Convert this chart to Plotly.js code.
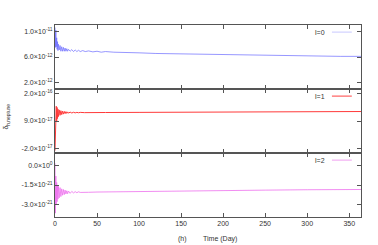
<!DOCTYPE html>
<html><head><meta charset="utf-8">
<script src="https://cdn.plot.ly/plotly-3.0.1.min.js"></script>
<style>html,body{margin:0;padding:0;background:#fff}#c{width:378px;height:245px}</style>
</head><body><div id="c"></div>
<script>
// l=0 series (units 1e-12)
const t0 = [0,0.5,1,1.5,2,2.5,3,3.5,4,5,6,7,8,9,10,11,12,13,14,15,16,18,20,22,24,26,28,30,33,36,40,45,50,55,60,70,80,90,100,120,140,160,180,200,220,240,260,280,300,320,340,364];
const v0 = [10.6,7.5,10.2,7.6,9.0,7.2,8.4,7.0,8.0,7.1,7.8,6.9,7.6,6.9,7.5,6.9,7.4,6.9,7.3,6.9,7.2,6.9,7.15,6.85,7.1,6.85,7.05,6.85,7.0,6.85,6.95,6.8,6.9,6.75,6.85,6.75,6.75,6.7,6.65,6.55,6.5,6.45,6.4,6.35,6.3,6.25,6.2,6.2,6.15,6.1,6.1,6.1];
// l=1 series (units 1e-17)
const t1 = [0,0.5,1,1.5,2,2.5,3,3.5,4,5,6,7,8,9,10,11,12,13,14,15,16,18,20,22,24,26,28,30,35,40,60,100,150,200,250,300,364];
const v1 = [-3,3,10,15,9,14.5,10,13.8,10.8,13.5,11.3,13.2,11.6,13.0,11.8,12.9,12.0,12.8,12.1,12.7,12.2,12.6,12.25,12.55,12.3,12.5,12.35,12.5,12.4,12.45,12.45,12.5,12.6,12.7,12.75,12.8,12.85];
// l=2 series (units 1e-21)
const t2 = [0,0.3,1,1.5,2,2.5,3,3.5,4,5,6,7,8,9,10,11,12,13,14,15,16,18,20,22,24,26,28,30,35,40,50,60,80,100,150,200,250,300,364];
const v2 = [0.2,-3.7,-0.8,-3.0,-1.3,-2.8,-1.5,-2.6,-1.6,-2.5,-1.7,-2.4,-1.8,-2.3,-1.85,-2.25,-1.9,-2.2,-1.95,-2.18,-1.97,-2.15,-2.0,-2.12,-2.02,-2.1,-2.03,-2.08,-2.05,-2.07,-2.05,-2.04,-2.02,-2.0,-1.97,-1.93,-1.9,-1.87,-1.85];
const scale0 = 1e-12, scale1 = 1e-17, scale2 = 1e-21;
const legendNames = ['l=0','l=1','l=2'];
const xTicks = [0,50,100,150,200,250,300,350];
const y0Ticks = [2e-12,6e-12,1e-11];
const y0Text = ['2.0×10<sup>-12</sup>','6.0×10<sup>-12</sup>','1.0×10<sup>-11</sup>'];
const y1Ticks = [-2e-17,9e-17,2e-16];
const y1Text = ['-2.0×10<sup>-17</sup>','9.0×10<sup>-17</sup>','2.0×10<sup>-16</sup>'];
const y2Ticks = [-3e-21,-1.5e-21,0];
const y2Text = ['-3.0×10<sup>-21</sup>','-1.5×10<sup>-21</sup>','0.0×10<sup>0</sup>'];
const colors = ['#6a6aff','#ff3a3a','#ee70ee'];
const legendColors = ['#c8c8ff','#ff4040','#f0a0f0'];

const traces = [
 {x:t0, y:v0.map(v=>v*scale0), xaxis:'x3', yaxis:'y3', mode:'lines', line:{color:colors[0], width:0.7}},
 {x:t1, y:v1.map(v=>v*scale1), xaxis:'x2', yaxis:'y2', mode:'lines', line:{color:colors[1], width:1}},
 {x:t2, y:v2.map(v=>v*scale2), xaxis:'x', yaxis:'y', mode:'lines', line:{color:colors[2], width:0.8}}
];
const tf = {family:'Liberation Sans, Arial, sans-serif', size:7, color:'#333'};
function xa(anchor, labels){
  return {anchor:anchor, range:[0,364], tickvals:xTicks, showticklabels:labels, ticks:'inside', ticklen:4,
   tickcolor:'#555', showline:true, linecolor:'#555', linewidth:1, mirror:'ticks', showgrid:false, zeroline:false,
   tickfont:tf, matches: anchor==='y'?undefined:'x'};
}
function ya(domain, range, tv, tt, anchor){
  return {domain:domain, range:range, tickvals:tv, ticktext:tt, ticks:'inside', ticklen:4, tickcolor:'#555',
   showline:true, linecolor:'#555', linewidth:1, mirror:'ticks', showgrid:false, zeroline:false, tickfont:tf, anchor:anchor};
}
const annotations = [];
const shapes = [];
const panelTop = [1, 0.6667, 0.3333];
for (let i=0;i<3;i++){
  const yy = panelTop[i] - 0.037;
  annotations.push({xref:'paper', yref:'paper', x:0.89, y:yy, xanchor:'right', yanchor:'middle', text:legendNames[i], showarrow:false, font:tf});
  shapes.push({type:'line', xref:'paper', yref:'paper', x0:0.905, x1:0.97, y0:yy, y1:yy, line:{color:legendColors[i], width:1}});
}
annotations.push({xref:'paper', yref:'paper', x:-0.16, y:0.523, textangle:-90, text:'δ<sub>h,neptune</sub>', showarrow:false, font:tf, xanchor:'center', yanchor:'middle'});
annotations.push({xref:'paper', yref:'paper', x:0.418, y:-0.085, text:'(h)', showarrow:false, font:tf, yanchor:'top'});
annotations.push({xref:'paper', yref:'paper', x:0.538, y:-0.085, text:'Time (Day)', showarrow:false, font:tf, yanchor:'top'});

const layout = {
  width:378, height:245, margin:{l:55, r:16.5, t:25, b:28}, showlegend:false,
  paper_bgcolor:'#fff', plot_bgcolor:'#fff',
  xaxis: xa('y', true), xaxis2: xa('y2', false), xaxis3: xa('y3', false),
  yaxis: ya([0,0.3333],[-4e-21,1e-21],y2Ticks,y2Text,'x'),
  yaxis2: ya([0.3333,0.6667],[-4e-17,2.2e-16],y1Ticks,y1Text,'x2'),
  yaxis3: ya([0.6667,1],[1e-12,1.1e-11],y0Ticks,y0Text,'x3'),
  annotations: annotations, shapes: shapes
};
Plotly.newPlot('c', traces, layout, {displayModeBar:false, staticPlot:true});
</script></body></html>
